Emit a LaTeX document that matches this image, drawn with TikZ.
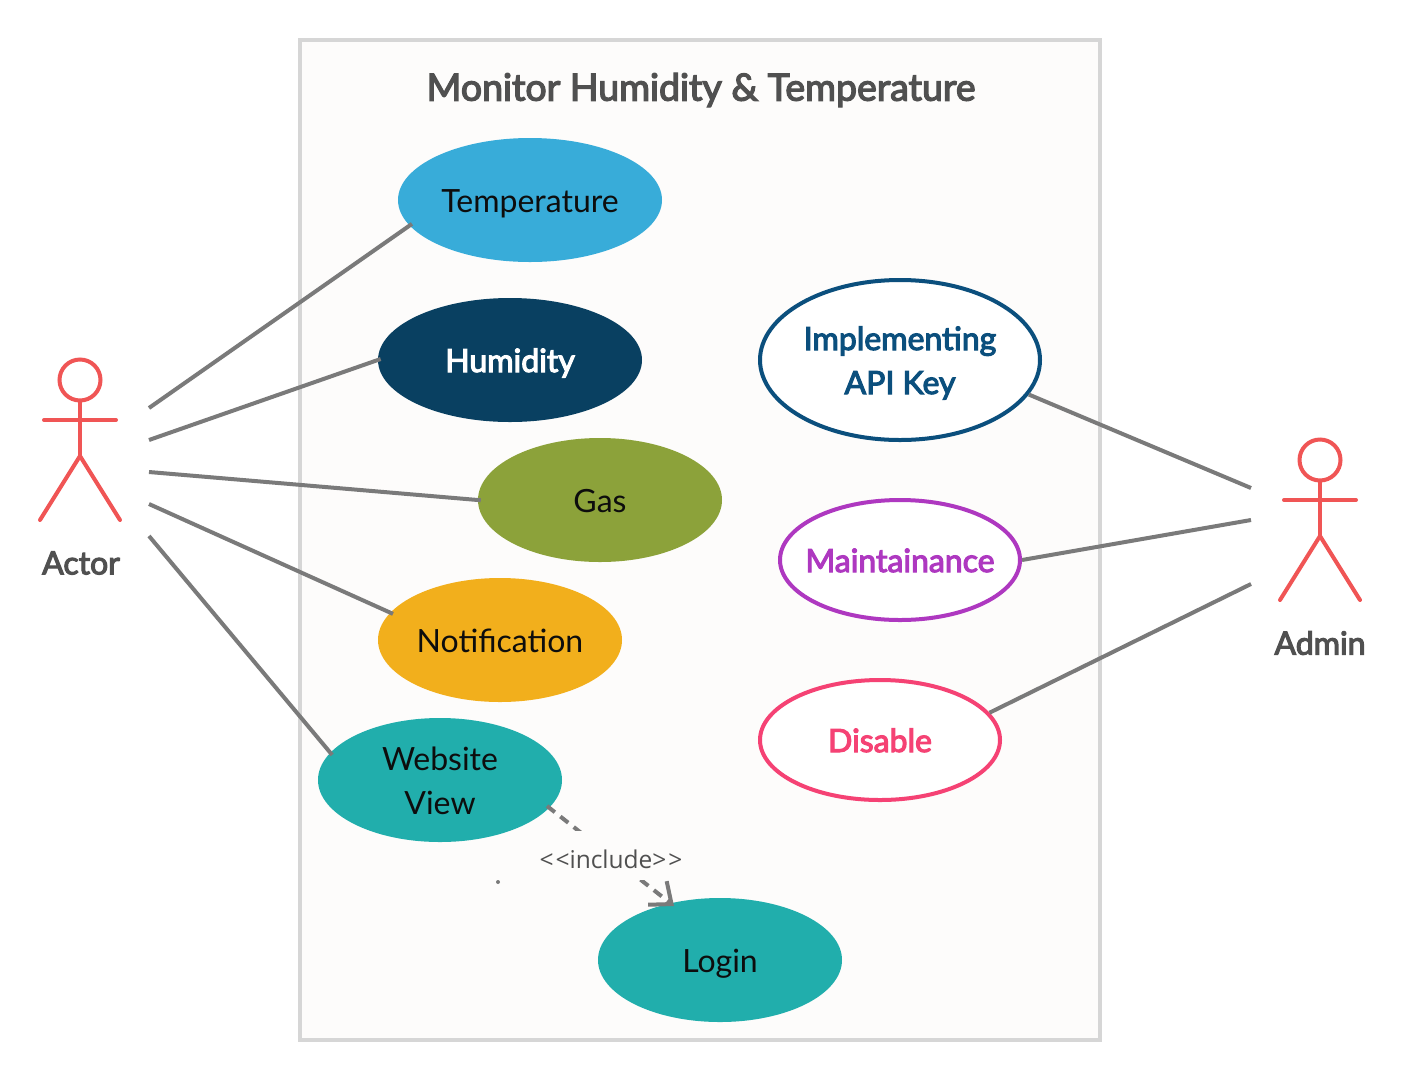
\documentclass[tikz,border=0pt]{standalone}
\usepackage{fontspec}
\setmainfont{Lato}
\newfontfamily\fauxbold{Lato}[BoldFont=Lato,BoldFeatures={FakeBold=3.5}]
\newfontfamily\incfont{Open Sans}
\usetikzlibrary{arrows.meta,shapes.geometric}
\definecolor{act}{HTML}{F05555}
\definecolor{lin}{HTML}{7A7A7A}
\definecolor{txt}{HTML}{505050}
\definecolor{pagebg}{HTML}{FDFCFB}
\definecolor{blueuc}{RGB}{56,172,217}
\definecolor{navyuc}{RGB}{9,64,97}
\definecolor{oliveuc}{RGB}{140,162,58}
\definecolor{amberuc}{RGB}{242,175,28}
\definecolor{tealuc}{RGB}{33,174,172}
\definecolor{implc}{RGB}{11,79,125}
\definecolor{mainc}{RGB}{174,56,192}
\definecolor{disc}{RGB}{245,66,116}
\newcommand\ustr{\rule[-8pt]{0pt}{40pt}}
\tikzset{x=1pt,y=-1pt,
 uc/.style={ellipse,minimum width=#1pt,minimum height=124pt,inner sep=-20pt,align=center,font=\fontsize{32pt}{44pt}\selectfont,text=black!95},
 ucb/.style={ellipse,draw=#1,line width=4pt,fill=white,text=#1,inner sep=-20pt,align=center,font=\fontsize{32pt}{44pt}\fauxbold\bfseries\selectfont},
 conn/.style={draw=lin,line width=4pt},
 into/.style={shorten >=-3pt},
 actor/.style={draw=act,line width=4pt,line cap=round},
 ahead/.style={circle,draw=act,line width=4pt,minimum size=41pt,inner sep=0pt},
 lab/.style={text=txt,font=\fontsize{32pt}{38pt}\fauxbold\bfseries\selectfont}}
\begin{document}
\begin{tikzpicture}
\useasboundingbox (0,0) rectangle (1406,1080);
\fill[white] (0,0) rectangle (1406,1080);
\draw[draw=black!16,fill=pagebg,line width=3.5pt] (300,40) rectangle (1100,1040);
\node[text=txt,font=\fontsize{37.5pt}{44pt}\fauxbold\bfseries\selectfont] (title) at (701,90) {Monitor Humidity \& Temperature};
\node[uc=264,fill=blueuc] (t) at (530,200) {\ustr Temperature};
\node[uc=264,fill=navyuc,text=white,font=\fontsize{32pt}{44pt}\fauxbold\bfseries\selectfont] (h) at (510,360) {\ustr Humidity};
\node[uc=244,fill=oliveuc] (g) at (600,500) {\ustr Gas};
\node[uc=244,fill=amberuc] (n) at (500,640) {\ustr Notification};
\node[uc=244,fill=tealuc] (w) at (440,780) {\ustr Website\\\ustr View};
\node[uc=244,fill=tealuc] (l) at (720,960) {\ustr Login};
\node[ucb=implc,minimum width=280pt,minimum height=160pt] (i) at (900,360) {\ustr Implementing\\\ustr API Key};
\node[ucb=mainc,minimum width=240pt,minimum height=120pt] (m) at (900,560) {\ustr Maintainance};
\node[ucb=disc,minimum width=240pt,minimum height=120pt] (d) at (880,740) {\ustr Disable};
% actors
\node[ahead] (ah) at (80,380) {};
\coordinate (ab) at (80,456);
\coordinate (al) at (44,420);\coordinate (ar) at (116,420);
\coordinate (af) at (40,520);\coordinate (ag) at (120,520);
\draw[actor] (ah.south) -- (ab);
\draw[actor] (al) -- (ar);
\draw[actor] (af) -- (ab) -- (ag);
\node[lab] (alab) at (81,563) {Actor};
\node[ahead] (bh) at (1320,460) {};
\coordinate (bb) at (1320,536);
\coordinate (bl) at (1284,500);\coordinate (br) at (1356,500);
\coordinate (bf) at (1280,600);\coordinate (bg) at (1360,600);
\draw[actor] (bh.south) -- (bb);
\draw[actor] (bl) -- (br);
\draw[actor] (bf) -- (bb) -- (bg);
\node[lab] (blab) at (1320,643) {Admin};
% connectors
\coordinate (a1) at (149,408);\coordinate (a2) at (149,440);\coordinate (a3) at (149,472);\coordinate (a4) at (149,504);\coordinate (a5) at (149,536);
\coordinate (b1) at (1251,488);\coordinate (b2) at (1251,520);\coordinate (b3) at (1251,584);
\draw[conn,into] (a1) -- (t.192.5);
\draw[conn,into] (a2) -- (h.west);
\draw[conn,into] (a3) -- (g.west);
\draw[conn,into] (a4) -- (n.166.3);
\draw[conn,into] (a5) -- (w.166);
\draw[conn] (b1) -- (i.-15);
\draw[conn] (b2) -- (m.east);
\draw[conn] (b3) -- (d.14);
% include
\coordinate (w1) at (547,806);
\coordinate (l1) at (674,906);
\draw[conn,dash pattern=on 10pt off 7pt,-{Straight Barb[length=18pt,width=30pt,line width=4pt]}] (w1) -- (l1);
\fill[pagebg] (530,831) rectangle (695,880);
\node[text=txt,inner sep=0pt,font=\fontsize{24.5pt}{28pt}\selectfont\incfont] (inc) at (611,859) {<\kern2pt<include>\kern2pt>};
\fill[lin] (498,882) circle (2pt);
\end{tikzpicture}
\end{document}
